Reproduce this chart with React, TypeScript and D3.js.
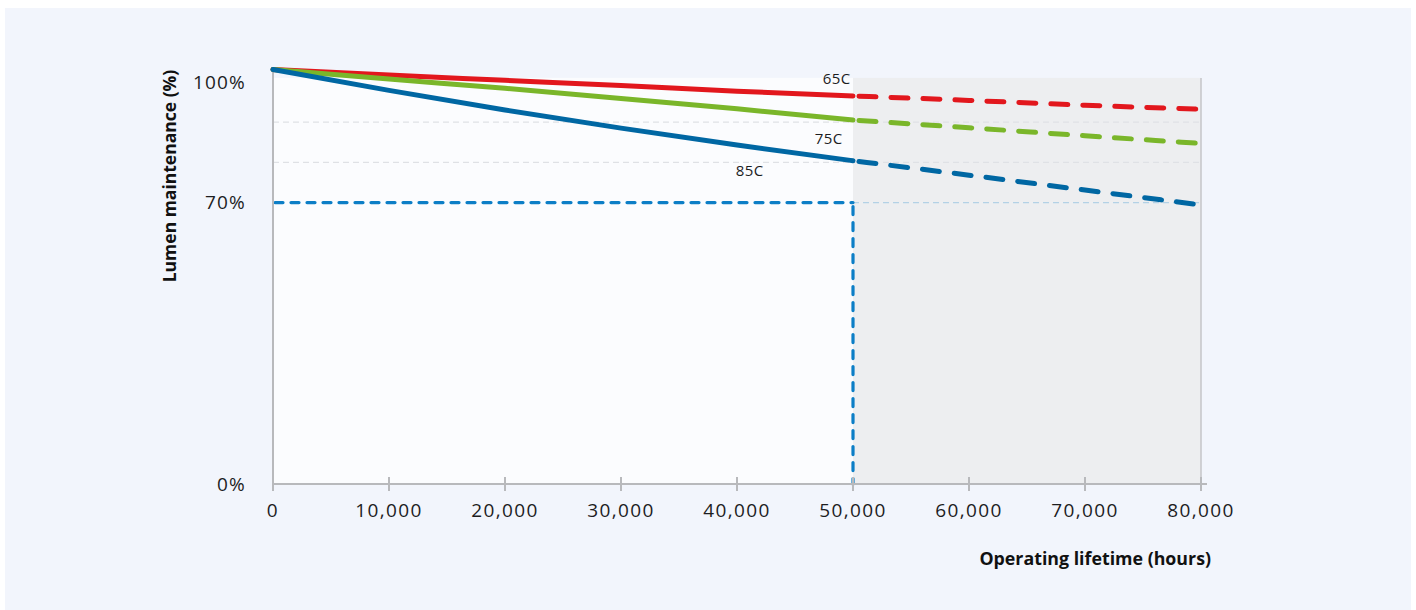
import React from 'react';
import * as d3 from 'd3';

// lumen maintenance (%), every 10,000 h
const hours = [0, 10000, 20000, 30000, 40000, 50000, 60000, 70000, 80000];
const red65 = [103.1, 101.7, 100.4, 99.1, 97.7, 96.5, 95.4, 94.2, 93.2];
const green75 = [103.1, 100.7, 98.4, 95.9, 93.3, 90.5, 88.6, 86.6, 84.7];
const blue85 = [103.1, 97.9, 93.0, 88.5, 84.3, 80.4, 76.8, 73.1, 69.4];

const seriesNames = ['65C', '75C', '85C'];
const seriesColors = ['#e2171d', '#7ab62a', '#0067a3'];
const labelHours = [48600, 47900, 41100];
const labelPct = [99.5, 84.6, 76.5];

const xTicks = [0, 10000, 20000, 30000, 40000, 50000, 60000, 70000, 80000];
const yTicks = [0, 70, 100];
const gridPct = [90, 80];
const ratedLife = 50000;
const threshold = 70;

const W = 1416;
const H = 610;
const font = "'Open Sans', sans-serif";

export default function App() {
  const x = d3.scaleLinear().domain([0, 80000]).range([273, 1201]);
  const y = d3.scaleLinear().domain([0, 100]).range([484, 81.9]);
  const top = y(101);
  const bottom = y(0);

  const series = [red65, green75, blue85].map((vals, i) => ({
    name: seriesNames[i],
    color: seriesColors[i],
    pts: hours.map((h, j) => [h, vals[j]] as [number, number]),
  }));

  const line = d3
    .line<[number, number]>()
    .x(d => x(d[0]))
    .y(d => y(d[1]))
    .curve(d3.curveMonotoneX);

  return (
    <svg width={W} height={H} style={{ position: 'absolute', left: 0, top: 0, display: 'block' }}>
      <rect x={5} y={8} width={1406} height={602} fill="#f2f5fc" />

      {/* plot areas */}
      <rect x={x(0)} y={top} width={x(ratedLife) - x(0)} height={bottom - top} fill="#fbfcfe" />
      <rect x={x(ratedLife)} y={top} width={x(80000) - x(ratedLife)} height={bottom - top} fill="#edeef0" />
      <line x1={x(80000)} x2={x(80000)} y1={top} y2={bottom} stroke="#c4c5c8" strokeWidth={1.5} />

      {/* grid */}
      {gridPct.map(p => (
        <line key={p} x1={x(0)} x2={x(80000)} y1={y(p)} y2={y(p)}
          stroke="#dfe1e5" strokeWidth={1.3} strokeDasharray="6 4" />
      ))}
      <line x1={x(ratedLife)} x2={x(80000)} y1={y(threshold)} y2={y(threshold)}
        stroke="#b3d1e5" strokeWidth={1.2} strokeDasharray="6 4" />

      {/* threshold markers */}
      <line x1={x(0) + 2} x2={x(ratedLife)} y1={y(threshold)} y2={y(threshold)}
        stroke="#0c7ec6" strokeWidth={3.2} strokeDasharray="8 8" strokeLinecap="round" />
      <line x1={x(ratedLife)} x2={x(ratedLife)} y1={y(threshold) + 4} y2={bottom}
        stroke="#0c7ec6" strokeWidth={3.2} strokeDasharray="8 8" strokeLinecap="round" />

      {/* axes */}
      <line x1={x(0)} x2={x(0)} y1={y(102.5)} y2={bottom + 7} stroke="#b8b9bc" strokeWidth={2} />
      <line x1={x(0)} x2={x(80000) + 6} y1={bottom} y2={bottom} stroke="#b8b9bc" strokeWidth={2} />
      {xTicks.map(t => (
        <g key={t}>
          <line x1={x(t)} x2={x(t)} y1={bottom - 7} y2={bottom + 7} stroke="#b8b9bc" strokeWidth={2} />
          <text x={x(t)} y={517} textAnchor="middle" fontFamily={font} fontSize={19}
            letterSpacing={1.4} fill="#1d1d1f">
            {d3.format(',')(t)}
          </text>
        </g>
      ))}
      {yTicks.map(t => (
        <text key={t} x={246} y={y(t)} dy="0.36em" textAnchor="end" fontFamily={font}
          fontSize={19} letterSpacing={1.2} fill="#1d1d1f">
          {t}%
        </text>
      ))}

      {/* series */}
      {series.map(s => (
        <g key={s.name}>
          <path d={line(s.pts.filter(d => d[0] <= ratedLife)) || ''} fill="none"
            stroke={s.color} strokeWidth={5} strokeLinecap="round" />
          <path d={line(s.pts.filter(d => d[0] >= ratedLife)) || ''} fill="none"
            stroke={s.color} strokeWidth={5} strokeDasharray="17 15" strokeDashoffset={-6}
            strokeLinecap="round" />
        </g>
      ))}
      {series.map((s, i) => (
        <text key={s.name} x={x(labelHours[i])} y={y(labelPct[i])} textAnchor="middle"
          fontFamily={font} fontSize={15} letterSpacing={0.4} fill="#1d1d1f">
          {s.name}
        </text>
      ))}

      {/* titles */}
      <text transform="translate(176,176) rotate(-90)" textAnchor="middle" fontFamily={font}
        fontSize={17.5} fontWeight="bold" fill="#111">
        Lumen maintenance (%)
      </text>
      <text x={1211} y={565} textAnchor="end" fontFamily={font} fontSize={17.8}
        fontWeight="bold" fill="#111">
        Operating lifetime (hours)
      </text>
    </svg>
  );
}
